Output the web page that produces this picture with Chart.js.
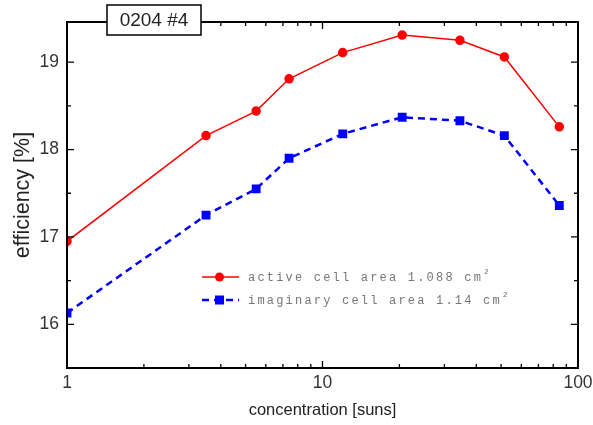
<!DOCTYPE html>
<html>
<head>
<meta charset="utf-8">
<script src="https://cdn.jsdelivr.net/npm/chart.js@4/dist/chart.umd.min.js"></script>
<style>
  html, body { margin: 0; padding: 0; background: #fff; }
  #wrap { width: 593px; height: 425px; }
</style>
</head>
<body>
<div id="wrap"><canvas id="effChart" width="593" height="425"></canvas></div>
<script>
// concentration (suns) and efficiency (%) for both area definitions
const concentration = [1, 3.5, 5.5, 7.4, 12, 20.5, 34.5, 51.5, 84.5];
const activeEff = [16.95, 18.16, 18.44, 18.81, 19.11, 19.31, 19.25, 19.06, 18.26];
const imaginaryEff = [16.13, 17.25, 17.55, 17.90, 18.18, 18.37, 18.33, 18.16, 17.36];

const xTicks = [1, 10, 100];
const yTicks = [16, 17, 18, 19];
const xMinorTicks = [2, 3, 4, 5, 6, 7, 8, 9, 20, 30, 40, 50, 60, 70, 80, 90];
const yMinorTicks = [15.5, 16.5, 17.5, 18.5, 19.5];

const seriesNames = ['active cell area 1.088 cm', 'imaginary cell area 1.14 cm'];
const sampleTitle = '0204 #4';

const toPoints = (ys) => concentration.map((c, i) => ({ x: c, y: ys[i] }));

const sansFont = '"Liberation Sans", Arial, sans-serif';

// frame on all four sides + inward tick marks
const frameTicks = {
    id: 'frameTicks',
    afterDatasetsDraw(chart) {
        const { ctx, chartArea: a, scales } = chart;
        const xs = scales.x, ys = scales.y;
        ctx.save();
        ctx.strokeStyle = '#000';
        ctx.lineWidth = 2;
        ctx.strokeRect(a.left, a.top, a.right - a.left, a.bottom - a.top);
        ctx.lineWidth = 1.3;
        ctx.beginPath();
        const tickX = (v, len) => {
            const px = xs.getPixelForValue(v);
            ctx.moveTo(px, a.bottom); ctx.lineTo(px, a.bottom - len);
            ctx.moveTo(px, a.top); ctx.lineTo(px, a.top + len);
        };
        const tickY = (v, len) => {
            const py = ys.getPixelForValue(v);
            if (py < a.top || py > a.bottom) return;
            ctx.moveTo(a.left, py); ctx.lineTo(a.left + len, py);
            ctx.moveTo(a.right, py); ctx.lineTo(a.right - len, py);
        };
        xTicks.forEach(v => tickX(v, 7));
        xMinorTicks.forEach(v => tickX(v, 4));
        yTicks.forEach(v => tickY(v, 7));
        yMinorTicks.forEach(v => tickY(v, 4));
        ctx.stroke();
        ctx.restore();
    }
};

// boxed sample label sitting on the top frame
const titleBox = {
    id: 'titleBox',
    afterDraw(chart) {
        const { ctx } = chart;
        ctx.save();
        ctx.fillStyle = '#fff';
        ctx.strokeStyle = '#000';
        ctx.lineWidth = 1.5;
        ctx.fillRect(107, 5, 94, 30);
        ctx.strokeRect(107, 5, 94, 30);
        ctx.fillStyle = '#222';
        ctx.font = '19px ' + sansFont;
        ctx.textAlign = 'center';
        ctx.textBaseline = 'middle';
        ctx.fillText(sampleTitle, 154, 21);
        ctx.restore();
    }
};

// legend inside the plot, with cm² superscript
const innerLegend = {
    id: 'innerLegend',
    afterDraw(chart) {
        const { ctx } = chart;
        const rows = [277, 300];
        ctx.save();
        chart.data.datasets.forEach((ds, i) => {
            const y = rows[i];
            ctx.strokeStyle = ds.borderColor;
            ctx.lineWidth = ds.borderWidth;
            ctx.setLineDash(ds.borderDash || []);
            ctx.beginPath();
            ctx.moveTo(202, y);
            ctx.lineTo(239, y);
            ctx.stroke();
            ctx.setLineDash([]);
            ctx.fillStyle = ds.backgroundColor;
            if (ds.pointStyle === 'rect') {
                ctx.fillRect(215, y - 4.5, 9, 9);
            } else {
                ctx.beginPath();
                ctx.arc(219.5, y, 4.5, 0, Math.PI * 2);
                ctx.fill();
            }
            ctx.fillStyle = '#777';
            ctx.font = '12px "Liberation Mono", "DejaVu Sans Mono", monospace';
            ctx.letterSpacing = '2.2px';
            ctx.textBaseline = 'middle';
            ctx.textAlign = 'left';
            ctx.fillText(ds.label, 248, y + 1);
            const w = ctx.measureText(ds.label).width;
            ctx.font = '8px "Liberation Mono", monospace';
            ctx.letterSpacing = '0px';
            ctx.fillText('2', 248 + w + 1, y - 5);
        });
        ctx.restore();
    }
};

const tickFont = { family: sansFont, size: 17.5 };

new Chart(document.getElementById('effChart'), {
    type: 'line',
    data: {
        datasets: [{
            label: seriesNames[0],
            data: toPoints(activeEff),
            borderColor: '#ff0000',
            backgroundColor: '#ff0000',
            borderWidth: 1.5,
            pointStyle: 'circle',
            pointRadius: 4,
            tension: 0
        }, {
            label: seriesNames[1],
            data: toPoints(imaginaryEff),
            borderColor: '#0000ff',
            backgroundColor: '#0000ff',
            borderWidth: 2.5,
            borderDash: [7, 5],
            pointStyle: 'rect',
            pointRadius: 4.5,
            tension: 0
        }]
    },
    options: {
        responsive: false,
        animation: false,
        layout: { padding: { top: 22, right: 15, left: 0, bottom: 0 } },
        plugins: { legend: { display: false }, tooltip: { enabled: false } },
        scales: {
            x: {
                type: 'logarithmic',
                min: 1,
                max: 100,
                afterBuildTicks: (s) => { s.ticks = xTicks.map(v => ({ value: v })); },
                afterFit: (s) => { s.height = 57; s.paddingLeft = 0; s.paddingRight = 0; },
                grid: { display: false, drawTicks: false },
                border: { display: false },
                ticks: {
                    autoSkip: false,
                    maxRotation: 0,
                    padding: 5,
                    color: '#333',
                    font: tickFont,
                    callback: (v) => String(v)
                },
                title: {
                    display: true,
                    text: 'concentration [suns]',
                    color: '#222',
                    font: { family: sansFont, size: 16.5 },
                    padding: { top: 0, bottom: 5 }
                }
            },
            y: {
                min: 15.5,
                max: 19.46,
                afterBuildTicks: (s) => { s.ticks = yTicks.map(v => ({ value: v })); },
                afterFit: (s) => { s.width = 67; s.paddingTop = 0; s.paddingBottom = 0; },
                grid: { display: false, drawTicks: false },
                border: { display: false },
                ticks: {
                    padding: 8,
                    color: '#333',
                    font: tickFont,
                    callback: (v) => String(v)
                },
                title: {
                    display: true,
                    text: 'efficiency [%]',
                    color: '#222',
                    font: { family: sansFont, size: 21.5 },
                    padding: { top: 10, bottom: 0 }
                }
            }
        }
    },
    plugins: [frameTicks, titleBox, innerLegend]
});
</script>
</body>
</html>
